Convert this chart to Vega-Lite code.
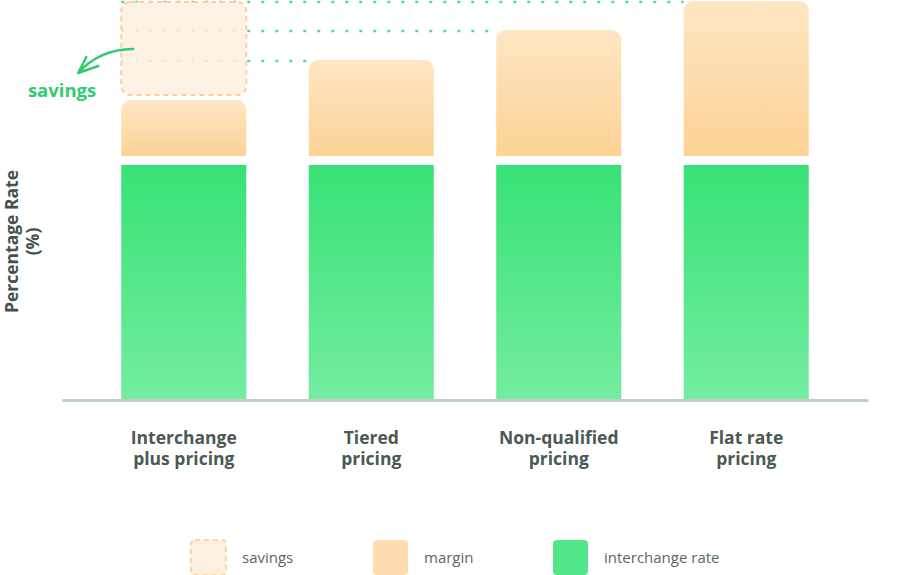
{
  "$schema": "https://vega.github.io/schema/vega-lite/v6.json",
  "width": 806,
  "height": 400,
  "autosize": {"type": "none"},
  "padding": {"left": 62, "top": 0, "right": 48, "bottom": 175},
  "background": "white",
  "config": {
    "view": {"stroke": null},
    "font": "Open Sans",
    "axisY": {
      "domain": false,
      "ticks": false,
      "labels": false,
      "grid": false,
      "titleFont": "Open Sans",
      "titleFontSize": 17.5,
      "titleFontWeight": 700,
      "titleColor": "#44524e",
      "titleLineHeight": 21,
      "titleX": -49.5,
      "titleY": 241,
      "titleBaseline": "middle",
      "titleAlign": "center",
      "titleAngle": -90
    }
  },
  "datasets": {
    "bars": [
      {"category": "Interchange plus pricing", "interchange": 2.35, "marginStart": 2.44, "marginEnd": 3.0},
      {"category": "Tiered pricing", "interchange": 2.35, "marginStart": 2.44, "marginEnd": 3.4},
      {"category": "Non-qualified pricing", "interchange": 2.35, "marginStart": 2.44, "marginEnd": 3.7},
      {"category": "Flat rate pricing", "interchange": 2.35, "marginStart": 2.44, "marginEnd": 3.99}
    ],
    "savings": [
      {"category": "Interchange plus pricing", "start": 3.05, "end": 3.98, "label": "savings", "arrowY": 3.39, "labelY": 3.03}
    ],
    "guides": [
      {"category": "Interchange plus pricing", "to": "Tiered pricing", "level": 3.39},
      {"category": "Interchange plus pricing", "to": "Non-qualified pricing", "level": 3.69},
      {"category": "Interchange plus pricing", "to": "Flat rate pricing", "level": 3.98}
    ],
    "legendItems": [
      {"category": "Interchange plus pricing", "series": "savings"},
      {"category": "Interchange plus pricing", "series": "margin"},
      {"category": "Interchange plus pricing", "series": "interchange rate"}
    ]
  },
  "encoding": {
    "x": {
      "field": "category",
      "type": "nominal",
      "scale": {
        "domain": ["Interchange plus pricing", "Tiered pricing", "Non-qualified pricing", "Flat rate pricing"],
        "paddingInner": 0.333,
        "paddingOuter": 0.316
      },
      "axis": {
        "title": null,
        "labelAngle": 0,
        "ticks": false,
        "tickSize": 0,
        "domainColor": "#bdd0c7",
        "domainWidth": 3,
        "zindex": 1,
        "labelPadding": 29,
        "labelFont": "Open Sans",
        "labelFontSize": 17.5,
        "labelFontWeight": 700,
        "labelColor": "#4a5954",
        "labelLineHeight": 21,
        "labelBaseline": "top",
        "labelExpr": "datum.value == 'Interchange plus pricing' ? ['Interchange', 'plus pricing'] : [replace(datum.value, ' pricing', ''), 'pricing']"
      }
    }
  },
  "layer": [
    {
      "data": {"name": "guides"},
      "mark": {"type": "rule", "stroke": "#52d99b", "strokeWidth": 2.5, "strokeDash": [3, 11], "xOffset": -62.5, "x2Offset": -62.5},
      "encoding": {
        "x2": {"field": "to"},
        "y": {"field": "level", "type": "quantitative", "scale": {"domain": [0, 4], "nice": false}, "axis": {"title": ["Percentage Rate", "(%)"]}}
      }
    },
    {
      "data": {"name": "bars"},
      "mark": {
        "type": "bar",
        "fill": {"gradient": "linear", "x1": 0, "y1": 0, "x2": 0, "y2": 1, "stops": [{"offset": 0, "color": "#38e275"}, {"offset": 1, "color": "#74eca1"}]}
      },
      "encoding": {
        "y": {"field": "interchange", "type": "quantitative", "scale": {"domain": [0, 4], "nice": false}, "axis": {"title": ["Percentage Rate", "(%)"]}}
      }
    },
    {
      "data": {"name": "bars"},
      "mark": {
        "type": "bar",
        "cornerRadiusTopLeft": 10,
        "cornerRadiusTopRight": 10,
        "fill": {"gradient": "linear", "x1": 0, "y1": 0, "x2": 0, "y2": 1, "stops": [{"offset": 0, "color": "#fee6c3"}, {"offset": 1, "color": "#fdd295"}]}
      },
      "encoding": {
        "y": {"field": "marginEnd", "type": "quantitative", "scale": {"domain": [0, 4], "nice": false}, "axis": {"title": ["Percentage Rate", "(%)"]}},
        "y2": {"field": "marginStart"}
      }
    },
    {
      "data": {"name": "savings"},
      "mark": {
        "type": "bar",
        "cornerRadius": 9,
        "fill": "#fef0e0",
        "fillOpacity": 0.85,
        "stroke": "#fccf9a",
        "strokeWidth": 2,
        "strokeDash": [5, 4]
      },
      "encoding": {
        "y": {"field": "end", "type": "quantitative", "scale": {"domain": [0, 4], "nice": false}, "axis": {"title": ["Percentage Rate", "(%)"]}},
        "y2": {"field": "start"}
      }
    },
    {
      "data": {"name": "savings"},
      "mark": {
        "type": "point",
        "shape": "M1,-0.436 Q-0.236,-0.425 -1,0.436 M-0.709,-0.145 L-1,0.436 L-0.273,0.182",
        "size": 3025,
        "filled": false,
        "stroke": "#2fcc70",
        "strokeWidth": 2.5,
        "strokeCap": "round",
        "strokeJoin": "round",
        "opacity": 1,
        "xOffset": -78
      },
      "encoding": {
        "y": {"field": "arrowY", "type": "quantitative", "scale": {"domain": [0, 4], "nice": false}, "axis": {"title": ["Percentage Rate", "(%)"]}}
      }
    },
    {
      "data": {"name": "savings"},
      "mark": {
        "type": "text",
        "align": "right",
        "baseline": "alphabetic",
        "dx": -87.5,
        "font": "Open Sans",
        "fontSize": 18.5,
        "fontWeight": 700,
        "color": "#2fcc70"
      },
      "encoding": {
        "y": {"field": "labelY", "type": "quantitative", "scale": {"domain": [0, 4], "nice": false}, "axis": {"title": ["Percentage Rate", "(%)"]}},
        "text": {"field": "label"}
      }
    },
    {
      "data": {"name": "legendItems"},
      "mark": {"type": "point", "filled": true, "opacity": 0},
      "encoding": {
        "y": {"datum": 0, "type": "quantitative", "axis": {"title": ["Percentage Rate", "(%)"]}},
        "color": {
          "field": "series",
          "type": "nominal",
          "scale": {"domain": ["savings", "margin", "interchange rate"], "range": ["#fef0e0", "#fedcae", "#52e68a"]},
          "legend": {
            "orient": "none",
            "legendX": 128,
            "legendY": 539,
            "direction": "horizontal",
            "title": null,
            "padding": 0,
            "symbolType": "M-0.77,-1 L0.77,-1 Q1,-1 1,-0.77 L1,0.77 Q1,1 0.77,1 L-0.77,1 Q-1,1 -1,0.77 L-1,-0.77 Q-1,-1 -0.77,-1 Z",
            "symbolSize": 1225,
            "symbolOpacity": 1,
            "symbolStrokeWidth": 2,
            "labelFont": "Open Sans",
            "labelFontSize": 15,
            "labelColor": "#5b6663",
            "labelOffset": 15,
            "columnPadding": 75,
            "encode": {
              "symbols": {
                "update": {
                  "fill": [
                    {"test": "datum.value == 'margin'", "value": {"gradient": "linear", "x1": 0, "y1": 0, "x2": 0, "y2": 1, "stops": [{"offset": 0, "color": "#fee6c3"}, {"offset": 1, "color": "#fdd295"}]}},
                    {"test": "datum.value == 'interchange rate'", "value": {"gradient": "linear", "x1": 0, "y1": 0, "x2": 0, "y2": 1, "stops": [{"offset": 0, "color": "#38e275"}, {"offset": 1, "color": "#74eca1"}]}},
                    {"value": "#fef1e2"}
                  ],
                  "stroke": {"signal": "datum.value == 'savings' ? '#fcd3a1' : 'transparent'"},
                  "strokeDash": {"signal": "datum.value == 'savings' ? [5, 4] : [1, 0]"},
                  "strokeWidth": {"value": 2},
                  "opacity": {"value": 1}
                }
              }
            }
          }
        }
      }
    }
  ]
}
